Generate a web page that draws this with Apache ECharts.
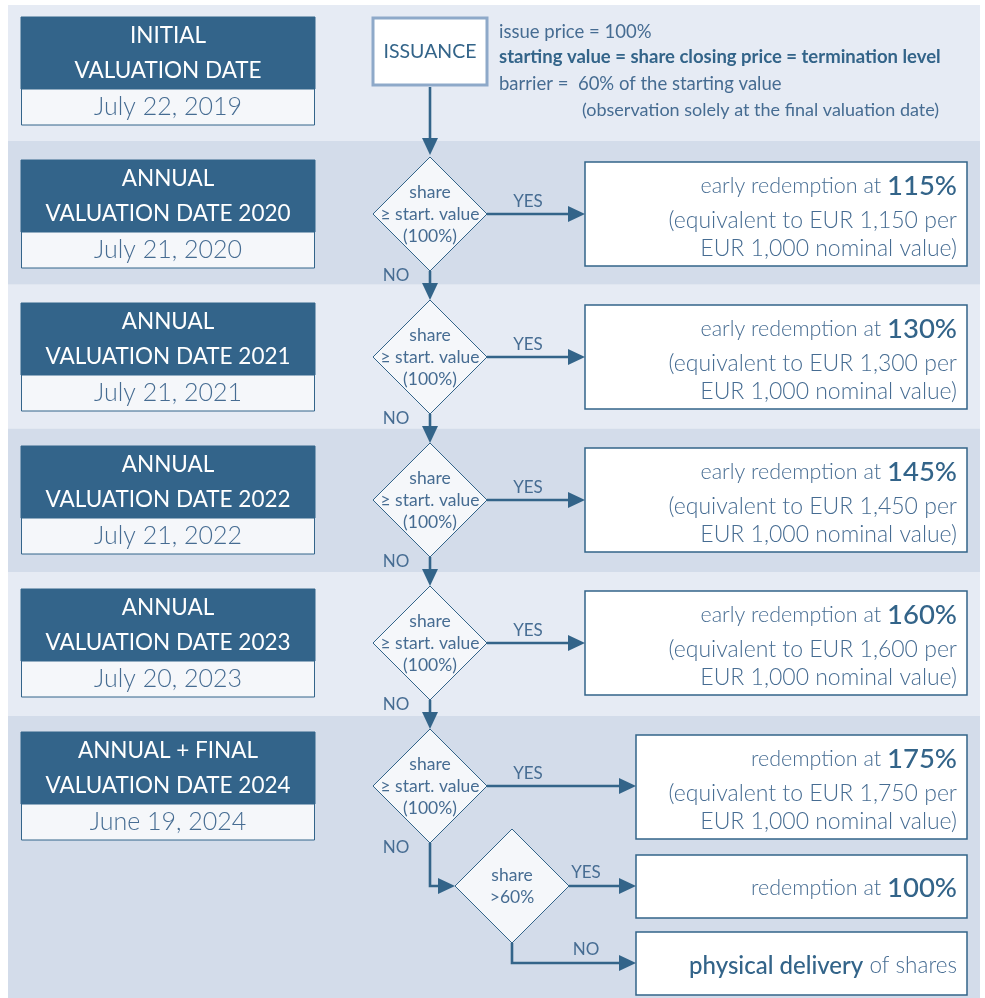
<!DOCTYPE html>
<html><head><meta charset="utf-8">
<script src="https://cdn.jsdelivr.net/npm/echarts@6/dist/echarts.min.js"></script>
<style>html,body{margin:0;padding:0;background:#fff}#c{width:985px;height:998px}</style>
</head><body><div id="c"></div>
<script>
// ---- data ----
const titleLine1 = ["INITIAL", "ANNUAL", "ANNUAL", "ANNUAL", "ANNUAL", "ANNUAL + FINAL"];
const titleLine2 = ["VALUATION DATE", "VALUATION DATE 2020", "VALUATION DATE 2021", "VALUATION DATE 2022", "VALUATION DATE 2023", "VALUATION DATE 2024"];
const dates = ["July 22, 2019", "July 21, 2020", "July 21, 2021", "July 21, 2022", "July 20, 2023", "June 19, 2024"];
const redemptionLead = ["early redemption at", "early redemption at", "early redemption at", "early redemption at", "redemption at"];
const redemptionPct = ["115%", "130%", "145%", "160%", "175%"];
const equivalentEUR = ["1,150", "1,300", "1,450", "1,600", "1,750"];
const nominalEUR = "1,000";
const issuanceNotes = ["issue price = 100%", "starting value = share closing price = termination level", "barrier =  60% of the starting value", "(observation solely at the final valuation date)"];
const conditionLines = ["share", "≥ start. value", "(100%)"];
const barrierLines = ["share", ">60%"];
const finalOutcomes = ["redemption at", "100%", "physical delivery", "of shares"];

// ---- layout / style ----
const C = {
  dark: '#33648a', bandA: '#e6ebf4', bandB: '#d3dcea', dateFill: '#f5f7fa',
  text: '#466c92', line: '#336489', issBorder: '#8ea9c9'
};
const FONT = 'Lato, "Open Sans", sans-serif';
const rowTop = i => 17 + i * 143;
const bandTop = i => i === 0 ? 5 : 141 + (i - 1) * 143.7;
const DX = 430; // decision column x
const g = [];

function txt(x, y, text, size, opts) {
  opts = opts || {};
  g.push({ type: 'text', z: 10, style: Object.assign({
    x: x, y: y, text: text, fill: opts.fill || C.text,
    font: (opts.weight || 'normal') + ' ' + size + 'px ' + FONT,
    textAlign: opts.align || 'center', textVerticalAlign: 'middle'
  }, opts.extra || {}) });
}
function arrow(pts) {
  const n = pts.length;
  const [x2, y2] = pts[n - 1], [x1, y1] = pts[n - 2];
  const dx = Math.sign(x2 - x1), dy = Math.sign(y2 - y1);
  g.push({ type: 'polyline', z: 5, shape: { points: pts.slice(0, -1).concat([[x2 - dx * 10, y2 - dy * 10]]) },
    style: { stroke: C.line, lineWidth: 2.6, fill: null } });
  const L = 17, W = 8;
  const bx = x2 - dx * L, by = y2 - dy * L;
  g.push({ type: 'polygon', z: 6, shape: { points: [[x2, y2], [bx - dy * W, by + dx * W], [bx + dy * W, by - dx * W]] },
    style: { fill: C.line } });
}
function diamond(cx, cy, h, lines) {
  g.push({ type: 'polygon', z: 7, shape: { points: [[cx, cy - h], [cx + h, cy], [cx, cy + h], [cx - h, cy]] },
    style: { fill: C.dateFill, stroke: C.line, lineWidth: 1 } });
  const n = lines.length, step = 22;
  lines.forEach((l, k) => txt(cx, cy + (k - (n - 1) / 2) * step, l, 17.5));
}
function box(x, y, w, h, fill, stroke, lw) {
  g.push({ type: 'rect', z: 3, shape: { x: x, y: y, width: w, height: h },
    style: { fill: fill, stroke: stroke, lineWidth: lw } });
}
function richRight(x, y, text, sizeA, sizeB) {
  g.push({ type: 'text', z: 10, style: { x: x, y: y, textAlign: 'right', textVerticalAlign: 'middle', text: text,
    rich: { a: { fill: C.text, font: '300 ' + sizeA + 'px ' + FONT }, b: { fill: C.line, font: '500 ' + sizeB + 'px ' + FONT } } } });
}

// bands
for (let i = 0; i < 6; i++) {
  const t = bandTop(i), b = i < 5 ? bandTop(i + 1) : 998;
  g.push({ type: 'rect', z: 0, shape: { x: 8, y: t, width: 972, height: b - t }, style: { fill: i % 2 ? C.bandB : C.bandA } });
}
// left date boxes
for (let i = 0; i < 6; i++) {
  const t = rowTop(i);
  box(21, t, 294, 72, C.dark, C.dark, 1);
  box(21.5, t + 72, 293, 36, C.dateFill, C.dark, 1);
  txt(168, t + 19, titleLine1[i], 22.5, { fill: '#fff' });
  txt(168, t + 54, titleLine2[i], 22.5, { fill: '#fff' });
  txt(168, t + 90, dates[i], 25, { weight: 300 });
}
// issuance
box(373, 18, 114, 67, '#fff', C.issBorder, 3);
txt(430, 52, 'ISSUANCE', 19.5, { fill: C.line });
txt(499, 32, issuanceNotes[0], 18.5, { align: 'left' });
txt(499, 57, issuanceNotes[1], 18.5, { align: 'left', weight: 'bold', fill: C.line });
txt(499, 84, issuanceNotes[2], 18.5, { align: 'left' });
txt(582, 110, issuanceNotes[3], 18, { align: 'left' });
arrow([[DX, 87], [DX, 155]]);

// annual decisions
for (let i = 0; i < 5; i++) {
  const t = rowTop(i + 1), cy = t + 54;
  diamond(DX, cy, 57, conditionLines);
  const bx = i < 4 ? 585 : 636;
  const by = t + 2 + (i === 4 ? 1 : 0);
  box(bx, by, 967 - bx, 104, '#fff', C.line, 1.5);
  arrow([[DX + 57, cy], [bx, cy]]);
  txt(528, cy - 12, 'YES', 17);
  richRight(957, by + 24, '{a|' + redemptionLead[i] + ' }{b|' + redemptionPct[i] + '}', 21.5, 27.5);
  txt(957, by + 59, '(equivalent to EUR ' + equivalentEUR[i] + ' per', 23, { align: 'right', weight: 300 });
  txt(957, by + 87, 'EUR ' + nominalEUR + ' nominal value)', 23, { align: 'right', weight: 300 });
  txt(396, cy + 62, 'NO', 17);
  if (i < 4) arrow([[DX, cy + 57], [DX, cy + 143 - 57]]);
}
// final barrier decision
const fy = rowTop(5) + 54;
const d2x = 512, d2y = 886;
arrow([[DX, fy + 57], [DX, d2y], [d2x - 57, d2y]]);
diamond(d2x, d2y, 57, barrierLines);
box(636, 855, 331, 63, '#fff', C.line, 1.5);
arrow([[d2x + 57, d2y], [636, d2y]]);
txt(586, 873, 'YES', 17);
richRight(957, 888, '{a|' + finalOutcomes[0] + ' }{b|' + finalOutcomes[1] + '}', 21.5, 27.5);
box(636, 932, 331, 63, '#fff', C.line, 1.5);
arrow([[d2x, d2y + 57], [d2x, 963], [636, 963]]);
txt(586, 950, 'NO', 17);
richRight(957, 966, '{b|' + finalOutcomes[2] + '}{a| ' + finalOutcomes[3] + '}', 22.5, 24);

const chart = echarts.init(document.getElementById('c'), null, { renderer: 'canvas' });
chart.setOption({ animation: false, graphic: { elements: g } });
</script>
</body></html>
